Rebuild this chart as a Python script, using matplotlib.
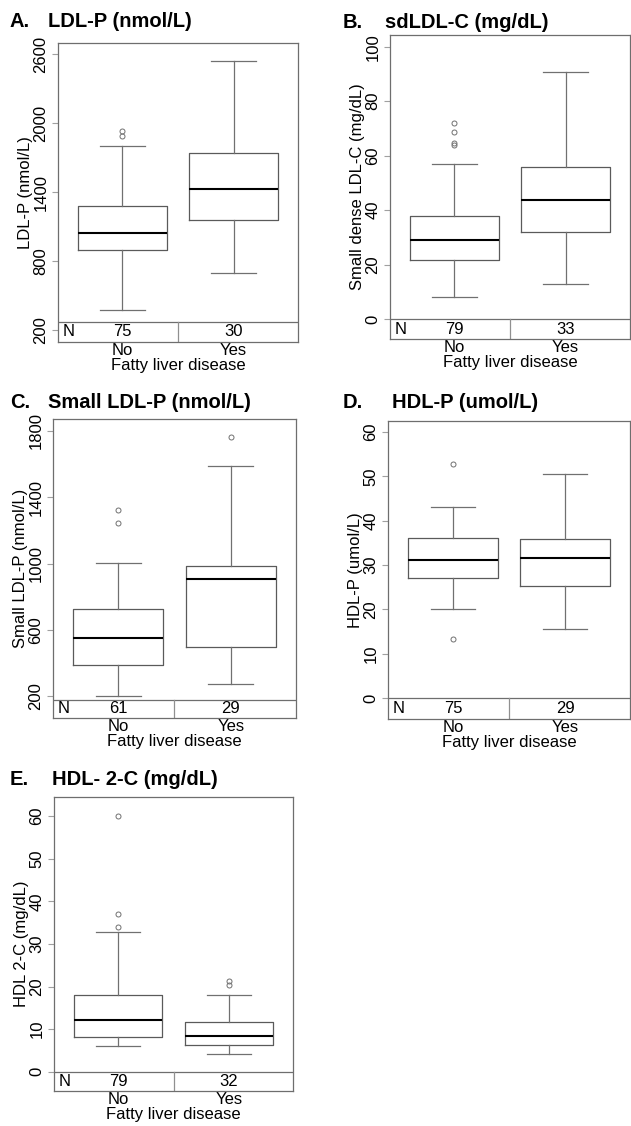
import matplotlib
matplotlib.use("Agg")
import matplotlib.pyplot as plt

plt.rcParams['font.family'] = ['Liberation Sans', 'DejaVu Sans']

groups = ["No", "Yes"]
xlabel = "Fatty liver disease"

# Panel data: (q1, median, q3, whisker low, whisker high, outliers)
A_title = ("A.", "LDL-P (nmol/L)")
A_ylabel = "LDL-P (nmol/L)"
A_n = [75, 30]
A_no = dict(whislo=375, q1=896, med=1041, q3=1281, whishi=1800, fliers=[1890, 1930])
A_yes = dict(whislo=696, q1=1157, med=1423, q3=1736, whishi=2542, fliers=[])
A_ticks = [200, 800, 1400, 2000, 2600]

B_title = ("B.", "sdLDL-C (mg/dL)")
B_ylabel = "Small dense LDL-C (mg/dL)"
B_n = [79, 33]
B_no = dict(whislo=8.2, q1=21.7, med=29.0, q3=37.8, whishi=57.1, fliers=[63.9, 64.7, 68.7, 72.0])
B_yes = dict(whislo=13.0, q1=31.9, med=43.9, q3=55.9, whishi=90.9, fliers=[])
B_ticks = [0, 20, 40, 60, 80, 100]

C_title = ("C.", "Small LDL-P (nmol/L)")
C_ylabel = "Small LDL-P (nmol/L)"
C_n = [61, 29]
C_no = dict(whislo=200, q1=388, med=553, q3=725, whishi=1006, fliers=[1243, 1323])
C_yes = dict(whislo=276, q1=499, med=910, q3=988, whishi=1591, fliers=[1762])
C_ticks = [200, 600, 1000, 1400, 1800]

D_title = ("D.", "HDL-P (umol/L)")
D_ylabel = "HDL-P (umol/L)"
D_n = [75, 29]
D_no = dict(whislo=20.1, q1=27.2, med=31.1, q3=36.2, whishi=43.2, fliers=[13.3, 52.8])
D_yes = dict(whislo=15.5, q1=25.4, med=31.6, q3=35.9, whishi=50.6, fliers=[])
D_ticks = [0, 10, 20, 30, 40, 50, 60]

E_title = ("E.", "HDL- 2-C (mg/dL)")
E_ylabel = "HDL 2-C (mg/dL)"
E_n = [79, 32]
E_no = dict(whislo=6.1, q1=8.2, med=12.1, q3=18.0, whishi=32.9, fliers=[34.0, 37.0, 60.0])
E_yes = dict(whislo=4.2, q1=6.2, med=8.5, q3=11.6, whishi=18.0, fliers=[20.4, 21.3])
E_ticks = [0, 10, 20, 30, 40, 50, 60]

W, H = 631, 1126
fig = plt.figure(figsize=(W / 100, H / 100), dpi=100)

FRAME = "#6e6e6e"
LINE = "#5a5a5a"

def panel(box, ylim, table_y, stats_no, stats_yes, ticks, ylabel, n, title, title_pos):
    l, t, r, b = box
    ax = fig.add_axes([l / W, 1 - b / H, (r - l) / W, (b - t) / H])
    stats = [dict(stats_no, label=groups[0]), dict(stats_yes, label=groups[1])]
    ax.bxp(stats, positions=[1, 2], widths=0.8, capwidths=0.4,
           boxprops=dict(color=LINE, lw=0.9),
           whiskerprops=dict(color="#707070", lw=0.9),
           capprops=dict(color="#707070", lw=0.9),
           medianprops=dict(color="black", lw=1.5),
           flierprops=dict(marker="o", mfc="none", mec="#707070", ms=3.6, mew=0.7))
    ax.set_xlim(0.42, 2.58)
    ax.set_ylim(*ylim)
    ax.set_yticks(ticks)
    ax.set_yticklabels([str(v) for v in ticks])
    ax.tick_params(axis="y", labelrotation=90, length=4, width=0.8, color="#a0a0a0",
                   labelsize=12, pad=3)
    for lab in ax.get_yticklabels():
        lab.set_va("center")
    ax.set_xticks([1, 2])
    ax.set_xticklabels(groups)
    ax.tick_params(axis="x", length=0, labelsize=12, pad=1)
    ax.set_xlabel(xlabel, fontsize=12, labelpad=0)
    ax.set_ylabel(ylabel, fontsize=12, labelpad=0)
    for s in ax.spines.values():
        s.set_color(FRAME)
        s.set_linewidth(0.9)
    # N table
    ax.axhline(table_y, color=FRAME, lw=0.9)
    ax.plot([1.5, 1.5], [ylim[0], table_y], color="#909090", lw=0.9)
    ymid = (ylim[0] + table_y) / 2
    ax.text(0.46, ymid, "N", ha="left", va="center", fontsize=12)
    for x, v in zip([1, 2], n):
        ax.text(x, ymid, str(v), ha="center", va="center", fontsize=12)
    lx, tx, by = title_pos
    fig.text(lx / W, 1 - by / H, title[0], fontsize=14.5, weight="bold", va="baseline")
    fig.text(tx / W, 1 - by / H, title[1], fontsize=14.5, weight="bold", va="baseline")
    return ax

panel((58, 43, 298, 342), (96, 2696), 270, A_no, A_yes, A_ticks, A_ylabel, A_n, A_title, (10, 48, 27))
panel((390, 35, 630, 339), (-7.3, 104.3), 0, B_no, B_yes, B_ticks, B_ylabel, B_n, B_title, (343, 385, 28))
panel((53, 419, 296, 718), (70, 1872), 180, C_no, C_yes, C_ticks, C_ylabel, C_n, C_title, (10, 48, 408))
panel((388, 421, 630, 719), (-4.7, 62.5), 0, D_no, D_yes, D_ticks, D_ylabel, D_n, D_title, (343, 392, 408))
panel((54, 797, 293, 1091), (-4.5, 64.5), 0, E_no, E_yes, E_ticks, E_ylabel, E_n, E_title, (10, 52, 785))

fig.savefig("out.png", dpi=100)
